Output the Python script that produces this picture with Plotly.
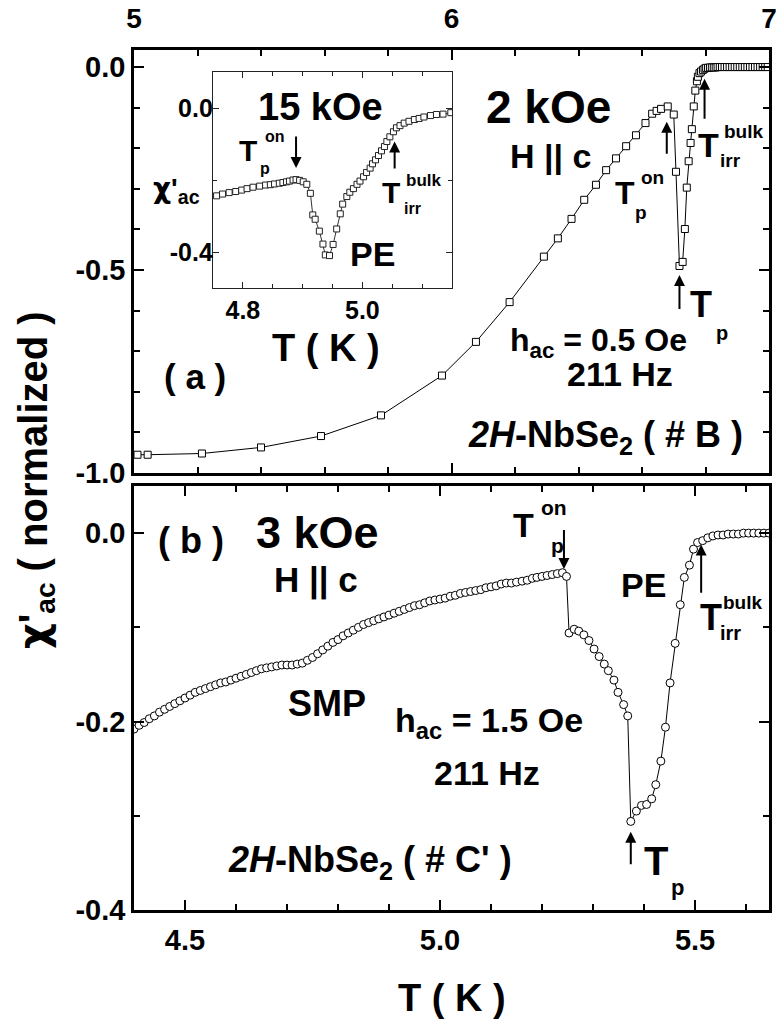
import plotly.graph_objects as go

W, H = 777, 1022
FONT = "Liberation Sans, Arial, sans-serif"
CHI = "<span style=\"font-family:'DejaVu Sans'\">χ</span>"

# ---------------- data ----------------
# panel (a): 2 kOe, H || c, sample #B
T_a = [5.011, 5.043, 5.214, 5.400, 5.589, 5.778, 5.970, 6.077, 6.183, 6.291,
       6.335, 6.378, 6.418, 6.455, 6.487, 6.518, 6.550, 6.581, 6.611, 6.632,
       6.646, 6.660, 6.681, 6.700, 6.707, 6.718, 6.728, 6.735, 6.741, 6.747,
       6.753, 6.757, 6.763, 6.768, 6.773, 6.776, 6.781, 6.786, 6.792, 6.797,
       6.802, 6.808, 6.814, 6.820, 6.826, 6.832, 6.838, 6.845, 6.852, 6.860,
       6.868, 6.876, 6.884, 6.892, 6.900, 6.908, 6.916, 6.924, 6.932, 6.940,
       6.948, 6.956, 6.964, 6.972, 6.980, 6.988, 6.996]
chi_a = [-0.955, -0.955, -0.952, -0.937, -0.909, -0.858, -0.760, -0.677, -0.579, -0.467,
         -0.422, -0.374, -0.327, -0.290, -0.254, -0.225, -0.195, -0.168, -0.138, -0.115,
         -0.108, -0.103, -0.097, -0.117, -0.258, -0.490, -0.480, -0.399, -0.297, -0.232,
         -0.187, -0.153, -0.097, -0.058, -0.035, -0.024, -0.015, -0.011, -0.007, -0.004,
         -0.002, -0.002, -0.001, -0.001, -0.001, -0.001, 0.000, 0.000, 0.000, 0.000,
         0.000, 0.000, 0.000, 0.000, 0.000, 0.000, 0.000, 0.000, 0.000, 0.000,
         0.000, 0.000, 0.000, 0.000, 0.000, 0.000, 0.000]

# inset: 15 kOe
T_in = [4.756, 4.766, 4.777, 4.788, 4.798, 4.807, 4.817, 4.828, 4.838, 4.846,
        4.853, 4.861, 4.867, 4.873, 4.878, 4.884, 4.889, 4.895, 4.901, 4.907,
        4.913, 4.917, 4.921, 4.928, 4.934, 4.938, 4.945, 4.951, 4.957, 4.963,
        4.967, 4.974, 4.979, 4.985, 4.991, 4.996, 5.002, 5.007, 5.013, 5.017,
        5.022, 5.027, 5.032, 5.037, 5.041, 5.046, 5.052, 5.057, 5.063, 5.070,
        5.078, 5.087, 5.095, 5.103, 5.114, 5.124, 5.135, 5.148, 5.160]
chi_in = [-0.244, -0.239, -0.235, -0.232, -0.228, -0.224, -0.220, -0.217, -0.214, -0.213,
          -0.211, -0.209, -0.207, -0.205, -0.203, -0.200, -0.199, -0.201, -0.205, -0.212,
          -0.237, -0.297, -0.309, -0.342, -0.378, -0.408, -0.410, -0.379, -0.336, -0.294,
          -0.267, -0.246, -0.234, -0.224, -0.212, -0.203, -0.191, -0.179, -0.167, -0.155,
          -0.144, -0.132, -0.119, -0.107, -0.093, -0.080, -0.066, -0.055, -0.049, -0.042,
          -0.037, -0.032, -0.029, -0.025, -0.021, -0.018, -0.017, -0.013, -0.011]

# panel (b): 3 kOe, H || c, sample #C'
T_b = [4.40, 4.41, 4.42, 4.43, 4.44, 4.45, 4.46, 4.47, 4.48, 4.49,
       4.50, 4.51, 4.52, 4.53, 4.54, 4.55, 4.56, 4.57, 4.58, 4.59,
       4.60, 4.61, 4.62, 4.63, 4.64, 4.65, 4.66, 4.67, 4.68, 4.69,
       4.70, 4.71, 4.72, 4.73, 4.74, 4.75, 4.76, 4.77, 4.78, 4.79,
       4.80, 4.81, 4.82, 4.83, 4.84, 4.85, 4.86, 4.87, 4.88, 4.89,
       4.90, 4.91, 4.92, 4.93, 4.94, 4.95, 4.96, 4.97, 4.98, 4.99,
       5.00, 5.01, 5.02, 5.03, 5.04, 5.05, 5.06, 5.07, 5.08, 5.09,
       5.10, 5.11, 5.12, 5.13, 5.14, 5.15,
       5.161, 5.171, 5.181, 5.190, 5.200, 5.210, 5.220, 5.230, 5.240, 5.248,
       5.253, 5.263, 5.272, 5.282, 5.292, 5.302, 5.312, 5.322, 5.330, 5.341,
       5.349, 5.360, 5.368, 5.374, 5.385, 5.395, 5.405, 5.415, 5.423, 5.433,
       5.442, 5.451, 5.461, 5.471, 5.479, 5.489, 5.497, 5.505, 5.515, 5.525,
       5.535, 5.545, 5.555, 5.565, 5.575, 5.585, 5.595, 5.605, 5.615, 5.625,
       5.635, 5.645]
chi_b = [-0.208, -0.204, -0.201, -0.197, -0.194, -0.190, -0.187, -0.184, -0.181, -0.178,
         -0.175, -0.172, -0.169, -0.167, -0.165, -0.163, -0.161, -0.159, -0.158, -0.156,
         -0.154, -0.152, -0.150, -0.148, -0.146, -0.144, -0.143, -0.142, -0.141, -0.140,
         -0.140, -0.140, -0.139, -0.138, -0.135, -0.132, -0.128, -0.124, -0.120, -0.116,
         -0.113, -0.109, -0.106, -0.103, -0.100, -0.097, -0.095, -0.093, -0.091, -0.089,
         -0.087, -0.085, -0.083, -0.081, -0.079, -0.077, -0.076, -0.074, -0.072, -0.071,
         -0.070, -0.069, -0.067, -0.066, -0.064, -0.063, -0.062, -0.061, -0.060, -0.058,
         -0.057, -0.056, -0.054, -0.053, -0.053, -0.052,
         -0.051, -0.050, -0.048, -0.047, -0.046, -0.045, -0.044, -0.043, -0.042, -0.046,
         -0.106, -0.102, -0.104, -0.108, -0.114, -0.123, -0.131, -0.139, -0.146, -0.156,
         -0.169, -0.182, -0.194, -0.306, -0.295, -0.289, -0.288, -0.282, -0.267, -0.242,
         -0.206, -0.159, -0.117, -0.076, -0.047, -0.034, -0.017, -0.010, -0.008, -0.005,
         -0.003, -0.002, -0.002, -0.001, -0.001, -0.001, 0.000, 0.000, 0.000, 0.000,
         0.000, 0.000]

assert len(T_a) == len(chi_a)
assert len(T_in) == len(chi_in)
assert len(T_b) == len(chi_b)

# tick labels
xa_vals, xa_text = [5, 6, 7], ["5", "6", "7"]
ya_vals, ya_text = [0.0, -0.5, -1.0], ["0.0", "-0.5", "-1.0"]
xb_vals, xb_text = [4.5, 5.0, 5.5], ["4.5", "5.0", "5.5"]
yb_vals, yb_text = [0.0, -0.2, -0.4], ["0.0", "-0.2", "-0.4"]
xi_vals, xi_text = [4.8, 5.0], ["4.8", "5.0"]
yi_vals, yi_text = [0.0, -0.4], ["0.0", "-0.4"]

# ---------------- figure ----------------
fig = go.Figure()
fig.add_trace(go.Scatter(x=T_a, y=chi_a, xaxis="x", yaxis="y", mode="lines+markers",
                         line=dict(color="black", width=1),
                         marker=dict(symbol="square", size=7, color="white",
                                     line=dict(color="black", width=1))))
fig.add_trace(go.Scatter(x=T_b, y=chi_b, xaxis="x2", yaxis="y2", mode="lines+markers",
                         line=dict(color="black", width=1),
                         marker=dict(symbol="circle", size=8, color="white",
                                     line=dict(color="black", width=1))))
fig.add_trace(go.Scatter(x=T_in, y=chi_in, xaxis="x3", yaxis="y3", mode="lines+markers",
                         line=dict(color="#333", width=1),
                         marker=dict(symbol="square", size=6, color="white",
                                     line=dict(color="#222", width=1))))


def px_x(px):
    return px / W


def px_y(py):
    return 1 - py / H


def axis(domain, rng, vals, text, minor_dtick, minor_tick0, anchor, side=None,
         lw=2.5, tlen=10, mlen=6, fsize=28, color="black", twidth=2, standoff=0):
    d = dict(domain=domain, range=rng, anchor=anchor, showline=True, linecolor=color,
             linewidth=lw, mirror="ticks", ticks="inside", ticklen=tlen, tickwidth=twidth,
             tickcolor=color, showgrid=False, zeroline=False, tickmode="array",
             tickvals=vals, ticktext=text, automargin=False, ticklabelstandoff=standoff,
             tickfont=dict(family=FONT, size=fsize, color="black", weight="bold"),
             minor=dict(ticks="inside", tickmode="linear", dtick=minor_dtick,
                        tick0=minor_tick0, ticklen=mlen, tickwidth=twidth,
                        tickcolor=color, showgrid=False))
    if side:
        d["side"] = side
    return d


xdom = [px_x(134), px_x(769)]
fig.update_layout(
    xaxis=axis(xdom, [5, 7], xa_vals, xa_text, 0.2, 5, "y", side="top", standoff=8),
    yaxis=axis([px_y(473), px_y(50)], [-1.0, 0.042], ya_vals, ya_text, 0.1, 0, "x",
               fsize=29),
    xaxis2=axis(xdom, [4.4, 5.645], xb_vals, xb_text, 0.1, 4.5, "y2", fsize=29,
                standoff=2),
    yaxis2=axis([px_y(910), px_y(486)], [-0.4, 0.05], yb_vals, yb_text, 0.1, 0, "x2",
                fsize=29),
    xaxis3=axis([px_x(213), px_x(452)], [4.75, 5.15], xi_vals, xi_text, 0.05, 4.8, "y3",
                lw=1.3, tlen=6, mlen=4, fsize=25, color="#222", twidth=1.3),
    yaxis3=axis([px_y(288), px_y(72)], [-0.5, 0.1], yi_vals, yi_text, 0.2, 0, "x3",
                lw=1.3, tlen=6, mlen=4, fsize=25, color="#222", twidth=1.3,
                standoff=-6),
)


def txt(s, px, py, size, xanchor="center", angle=0):
    return dict(text=s, x=px_x(px), y=px_y(py), xref="paper", yref="paper",
                xanchor=xanchor, yanchor="middle", showarrow=False, textangle=angle,
                font=dict(family=FONT, size=size, color="black", weight="bold"))


def arrow(xr, yr, x, y_tail, y_tip):
    return dict(x=x, y=y_tip, ax=x, ay=y_tail, xref=xr, yref=yr, axref=xr, ayref=yr,
                showarrow=True, arrowhead=2, arrowsize=1.1, arrowwidth=2,
                arrowcolor="black", text="")


anns = [
    # axis titles
    txt(CHI + "'<sub>ac</sub> ( normalized )", 35, 480, 40, angle=-90),
    txt("T ( K )", 452, 998, 38),
    # panel (a)
    txt("2 kOe", 548, 107, 46),
    txt("H || c", 550, 156, 34),
    txt("T", 625, 193, 32), txt("on", 652, 178, 19), txt("p", 641, 213, 19),
    arrow("x", "y", 6.678, -0.217, -0.135),
    txt("T", 708, 145, 34), txt("bulk", 743, 131, 19), txt("irr", 730, 160, 19),
    arrow("x", "y", 6.797, -0.131, -0.029),
    txt("T", 701, 305, 36), txt("p", 722, 333, 20),
    arrow("x", "y", 6.718, -0.60, -0.512),
    txt("h<sub>ac</sub> = 0.5 Oe", 598, 342, 32),
    txt("211 Hz", 620, 374, 34),
    txt("( a )", 195, 376, 35),
    txt("<i>2H</i>-NbSe<sub>2</sub> ( # B )", 605, 437, 36),
    # inset
    txt("15 kOe", 320, 107, 38),
    txt("PE", 372, 254, 34),
    txt("T", 248, 150, 30), txt("on", 275, 137, 16), txt("p", 265, 168, 16),
    arrow("x3", "y3", 4.889, -0.075, -0.167),
    txt("T", 391, 192, 30), txt("bulk", 424, 180, 17), txt("irr", 412, 209, 16),
    arrow("x3", "y3", 5.054, -0.172, -0.093),
    txt(CHI + "'<sub>ac</sub>", 176, 190, 28),
    txt("T ( K )", 326, 348, 38),
    # panel (b)
    txt("( b )", 191, 540, 36),
    txt("3 kOe", 317, 532, 45),
    txt("H || c", 316, 580, 35),
    txt("T", 523, 525, 34), txt("on", 554, 507, 21), txt("p", 557, 545, 21),
    arrow("x2", "y2", 5.243, 0.005, -0.038),
    txt("PE", 643, 585, 34),
    txt("T", 711, 617, 36), txt("bulk", 742, 602, 19), txt("irr", 730, 633, 20),
    arrow("x2", "y2", 5.512, -0.065, -0.012),
    txt("SMP", 327, 703, 36),
    txt("h<sub>ac</sub> = 1.5 Oe", 489, 722, 34),
    txt("211 Hz", 487, 773, 34),
    txt("<i>2H</i>-NbSe<sub>2</sub> ( # C' )", 370, 862, 36),
    txt("T", 656, 861, 40), txt("p", 677, 887, 22),
    arrow("x2", "y2", 5.374, -0.353, -0.317),
]

fig.update_layout(
    width=W, height=H, margin=dict(l=0, r=0, t=0, b=0),
    paper_bgcolor="white", plot_bgcolor="white", showlegend=False,
    annotations=anns,
)

fig.write_html("out.html", config={"displayModeBar": False},
               post_script="document.body.style.margin='0px';")
